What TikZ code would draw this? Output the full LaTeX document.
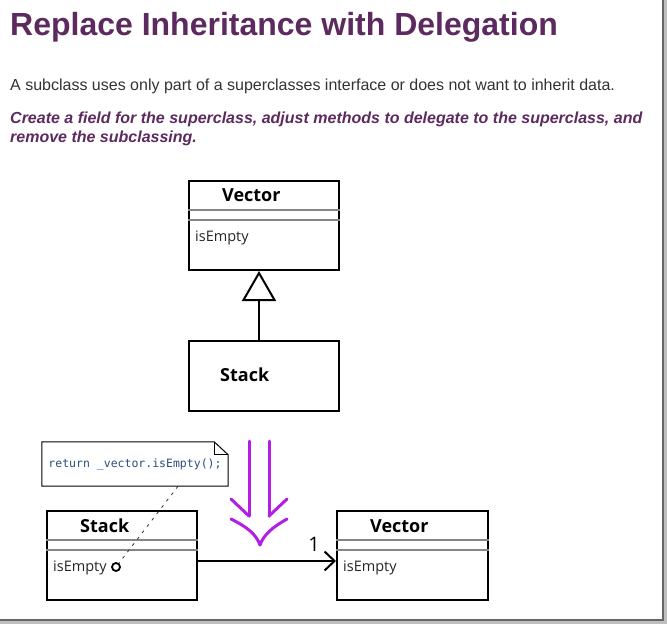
\documentclass[tikz,border=0pt]{standalone}
\usepackage{fontspec}
\setmainfont{Liberation Sans}
\setmonofont{DejaVu Sans Mono}
\newfontfamily\umlfont{Open Sans}
\usepackage{tikz}
\usepackage{xcolor}
\usetikzlibrary{arrows.meta, positioning}
\definecolor{Plum}{HTML}{5C2A5E}
\definecolor{Violet}{HTML}{B31EE3}
\definecolor{NoteBlue}{HTML}{2B4F7A}
\definecolor{RuleGray}{HTML}{858585}

\tikzset{
    classbox/.style={draw, line width=2pt, minimum width=150pt, inner sep=0pt},
    classname/.style={font=\umlfont\fontsize{18}{20}\selectfont\bfseries, inner sep=0pt},
    member/.style={font=\umlfont\fontsize{14.5}{16}\selectfont, text=black!85, inner sep=0pt},
    seprule/.style={RuleGray, line width=1.4pt},
    refactor/.style={Violet, line width=3pt, line cap=round, line join=round}
}

\begin{document}
\begin{tikzpicture}[x=1pt, y=-1pt]
        \useasboundingbox (0,0) rectangle (667,624);
        \fill[white] (0,0) rectangle (667,624);

        % Page shadow
        \fill[black!60] (662,0) rectangle (664,621);
        \fill[black!25] (664,0) rectangle (667,624);
        \fill[black!60] (0,619) rectangle (664,621);
        \fill[black!25] (0,621) rectangle (667,624);

        % Heading and text
        \node[anchor=base west, inner sep=0pt, text=Plum, font=\fontsize{32}{36}\selectfont\bfseries] (title) at (10,35) {Replace Inheritance with Delegation};
        \node[anchor=base west, inner sep=0pt, text=black!80, font=\fontsize{16}{19}\selectfont] (problem) at (10,90) {A subclass uses only part of a superclasses interface or does not want to inherit data.};
        \node[anchor=base west, inner sep=0pt, text=Plum, align=left, font=\fontsize{16}{19}\selectfont\bfseries\itshape] (solution) at (10,142) {Create a field for the superclass, adjust methods to delegate to the superclass, and\\remove the subclassing.};

        % Before: Stack inherits Vector
        \node[classbox, minimum height=89pt] (vecA) at (264,225.5) {};
        \node[classname, anchor=base west] (vecAname) at (222,201) {Vector};
        \draw[seprule] ([yshift=-30pt]vecA.north west) -- ([yshift=-30pt]vecA.north east);
        \draw[seprule] ([yshift=-40pt]vecA.north west) -- ([yshift=-40pt]vecA.north east);
        \node[member, anchor=base west] (vecAop) at (195,241) {isEmpty};

        \node[classbox, minimum height=70pt] (stackA) at (264,376) {};
        \node[classname, anchor=base west] (stackAname) at (220,381) {Stack};

        \draw[line width=2pt, -{Triangle[open, length=30pt, width=34pt]}] ([xshift=-5pt]stackA.north) -- ([xshift=-5pt]vecA.south);

        % Refactoring arrow
        \draw[refactor] (249,441) -- (249,516) (269,441) -- (269,516);
        \draw[refactor] (231,499) -- (249,516) (287,499) -- (269,516);
        \draw[refactor] (231,519) .. controls (247,527) and (256,534) .. (260,545) .. controls (264,534) and (273,527) .. (287,519);

        % After: Stack delegates to Vector
        \node[classbox, minimum height=89pt] (stackB) at (122,555.5) {};
        \node[classname, anchor=base west] (stackBname) at (80,532) {Stack};
        \draw[seprule] ([yshift=-30pt]stackB.north west) -- ([yshift=-30pt]stackB.north east);
        \draw[seprule] ([yshift=-40pt]stackB.north west) -- ([yshift=-40pt]stackB.north east);
        \node[member, anchor=base west] (stackBop) at (53,571) {isEmpty};
        \node[circle, draw, line width=1.8pt, minimum size=8pt, inner sep=0pt] (opmark) at (116,567) {};

        \node[classbox, minimum height=89pt, minimum width=151pt] (vecB) at (412.5,555.5) {};
        \node[classname, anchor=base west] (vecBname) at (370,532) {Vector};
        \draw[seprule] ([yshift=-30pt]vecB.north west) -- ([yshift=-30pt]vecB.north east);
        \draw[seprule] ([yshift=-40pt]vecB.north west) -- ([yshift=-40pt]vecB.north east);
        \node[member, anchor=base west] (vecBop) at (343,571) {isEmpty};

        \draw[line width=2pt, -{Straight Barb[length=10pt, width=19pt]}] ([yshift=-5.5pt]stackB.east) -- ([yshift=-5.5pt]vecB.west);
        \node[anchor=base, inner sep=0pt, font=\umlfont\fontsize{20}{22}\selectfont] (mult) at (314,551) {1};

        % Note
        \node[minimum width=186pt, minimum height=44pt, inner sep=0pt, text=NoteBlue, font=\ttfamily\fontsize{11.5}{13}\selectfont] (note) at (135,464) {return \_vector.isEmpty();};
        \draw[line width=1pt] (note.north west) -- ([xshift=-14pt]note.north east) -- ([yshift=-13pt]note.north east) -- (note.south east) -- (note.south west) -- cycle;
        \draw[line width=0.8pt] ([xshift=-14pt]note.north east) |- ([yshift=-13pt]note.north east);
        \draw[black!80, line width=0.8pt, dash pattern=on 3pt off 5pt] ([xshift=43pt]note.south) -- (opmark);
    \end{tikzpicture}
\end{document}
